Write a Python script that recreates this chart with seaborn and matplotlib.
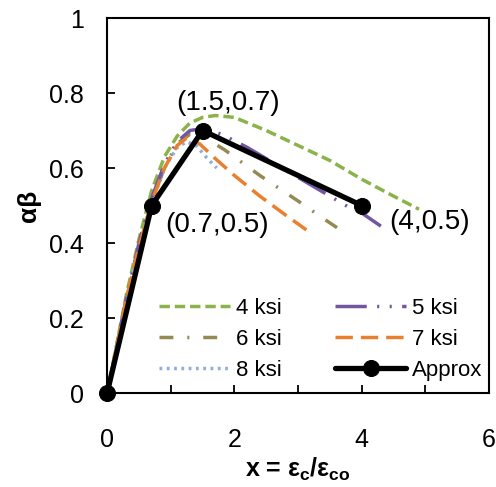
import numpy as np
import pandas as pd
import matplotlib
matplotlib.use("Agg")
import matplotlib.pyplot as plt
import seaborn as sns

# curve data
x_4ksi = [0, 0.3, 0.5, 0.7, 0.9, 1.1, 1.3, 1.5, 1.7, 2.0, 2.5, 3.0, 3.5, 4.0, 4.5, 4.9]
y_4ksi = [0, 0.26, 0.41, 0.54, 0.63, 0.685, 0.72, 0.735, 0.74, 0.735, 0.70, 0.66, 0.62, 0.57, 0.525, 0.49]

x_5ksi = [0, 0.3, 0.5, 0.7, 0.9, 1.1, 1.3, 1.5, 1.8, 2.2, 2.6, 3.0, 3.4, 3.8, 4.0, 4.3]
y_5ksi = [0, 0.25, 0.40, 0.52, 0.61, 0.67, 0.70, 0.705, 0.69, 0.655, 0.615, 0.575, 0.535, 0.495, 0.48, 0.445]

x_6ksi = [0, 0.3, 0.5, 0.7, 0.9, 1.1, 1.3, 1.5, 1.85, 2.4, 3.0, 3.4, 3.76]
y_6ksi = [0, 0.25, 0.39, 0.51, 0.60, 0.665, 0.69, 0.685, 0.648, 0.58, 0.512, 0.465, 0.424]

x_7ksi = [0, 0.3, 0.5, 0.7, 0.9, 1.1, 1.25, 1.45, 1.7, 2.0, 2.4, 2.8, 3.13]
y_7ksi = [0, 0.25, 0.39, 0.51, 0.60, 0.66, 0.68, 0.665, 0.625, 0.58, 0.525, 0.475, 0.435]

x_8ksi = [0, 0.3, 0.5, 0.7, 0.9, 1.1, 1.25, 1.4, 1.55, 1.72]
y_8ksi = [0, 0.25, 0.39, 0.505, 0.60, 0.655, 0.67, 0.66, 0.63, 0.60]

x_approx = [0, 0.7, 1.5, 4]
y_approx = [0, 0.5, 0.7, 0.5]

point_labels = ["(0.7,0.5)", "(1.5,0.7)", "(4,0.5)"]

sns.set_style("ticks", {"axes.edgecolor": "black", "text.color": "black",
                        "xtick.color": "black", "ytick.color": "black",
                        "axes.labelcolor": "black"})
plt.rcParams["font.family"] = ["Liberation Sans", "DejaVu Sans"]
plt.rcParams["mathtext.fontset"] = "custom"
plt.rcParams["mathtext.rm"] = "Liberation Sans"
plt.rcParams["mathtext.bf"] = "Liberation Sans:bold"

fig = plt.figure(figsize=(4.96, 4.87), dpi=100)
ax = fig.add_axes([0.216, 0.193, 0.77, 0.77])

series = [
    ("4 ksi", x_4ksi, y_4ksi, "#8bb34b", (0, (3, 1.4))),
    ("6 ksi", x_6ksi, y_6ksi, "#948a54", (0, (4, 4, 0.6, 4))),
    ("8 ksi", x_8ksi, y_8ksi, "#8eaedc", (0, (0.8, 1.3))),
    ("5 ksi", x_5ksi, y_5ksi, "#7356a0", (0, (9, 3, 0.6, 3, 0.6, 3))),
    ("7 ksi", x_7ksi, y_7ksi, "#e8802f", (0, (5, 2.3))),
]
for name, xs, ys, col, ls in series:
    sns.lineplot(x=xs, y=ys, ax=ax, color=col, linestyle=ls, linewidth=2.5,
                 sort=False, estimator=None, label=name)

sns.lineplot(x=x_approx, y=y_approx, ax=ax, color="black", linewidth=3.8,
             marker="o", markersize=11.5, markeredgecolor="black",
             sort=False, estimator=None, label="Approx", clip_on=False, zorder=5)

# point annotations
ax.annotate(point_labels[0], (x_approx[1], y_approx[1]), xytext=(10, -14),
            textcoords="offset points", fontsize=20, ha="left", va="center")
ax.annotate(point_labels[1], (x_approx[2], y_approx[2]), xytext=(18, 20),
            textcoords="offset points", fontsize=20, ha="center", va="center")
ax.annotate(point_labels[2], (x_approx[3], y_approx[3]), xytext=(20, -12),
            textcoords="offset points", fontsize=20, ha="left", va="center")

ax.set_xlim(0, 6)
ax.set_ylim(0, 1)
ax.set_xticks([0, 2, 4, 6])
ax.set_xticks([1, 3, 5], minor=True)
ax.set_yticks([0, 0.2, 0.4, 0.6, 0.8, 1.0])
ax.set_yticklabels(["0", "0.2", "0.4", "0.6", "0.8", "1"])
ax.tick_params(axis="both", which="both", direction="in", length=6, width=1.3,
               labelsize=18)
ax.tick_params(axis="x", pad=25)
ax.tick_params(axis="y", pad=17)
for s in ax.spines.values():
    s.set_linewidth(1.5)

ax.set_xlabel(r"x = ε$_\mathbf{c}$/ε$_\mathbf{co}$", fontsize=18, fontweight="bold", va="center")
ax.xaxis.set_label_coords(0.5, -0.205)
ax.set_ylabel("αβ", fontsize=19, fontweight="bold", va="center")
ax.yaxis.set_label_coords(-0.205, 0.5)

h, l = ax.get_legend_handles_labels()
ax.legend(h, l, ncol=2, frameon=False, fontsize=16, loc="lower right",
          bbox_to_anchor=(1.005, 0.008), borderaxespad=0, handlelength=3.2,
          handletextpad=0.25, columnspacing=2.4, labelspacing=0.45)

fig.savefig("out.png", dpi=100)
